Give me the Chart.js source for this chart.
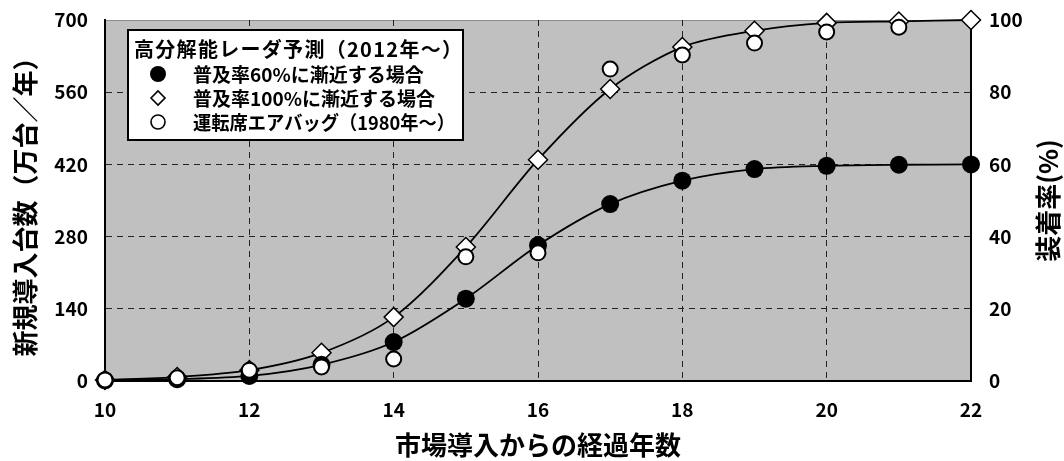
<!DOCTYPE html>
<html lang="ja">
<head>
<meta charset="utf-8">
<title>新規導入台数と装着率</title>
<script src="https://cdn.jsdelivr.net/npm/chart.js@4.4.1/dist/chart.umd.min.js"></script>
<style>
  html, body { margin: 0; padding: 0; background: #fff; }
  #wrap { width: 1064px; height: 461px; }
</style>
</head>
<body>
<div id="wrap"><canvas id="chart" width="1064" height="461"></canvas></div>
<script>
// ---- data ----
const years = [10, 11, 12, 13, 14, 15, 16, 17, 18, 19, 20, 21, 22];
const airbagYears = [10, 11, 12, 13, 14, 15, 16, 17, 18, 19, 20, 21];

// 装着率 (%)
const rate60 = [0.2, 0.5, 1.4, 4.5, 10.8, 22.8, 37.6, 49.0, 55.5, 58.7, 59.6, 59.9, 60.0];
const rate100 = [0.3, 1.1, 3.0, 7.8, 17.7, 37.1, 61.3, 80.9, 92.5, 97.0, 99.2, 99.6, 100.0];
const airbag = [0.3, 0.9, 3.0, 3.9, 6.1, 34.4, 35.5, 86.4, 90.3, 93.6, 96.7, 98.0];

const legendTitle = '高分解能レーダ予測（2012年～）';
const legendLabels = ['普及率60%に漸近する場合', '普及率100%に漸近する場合', '運転席エアバッグ（1980年～）'];

const leftTitle = '新規導入台数（万台／年）';
const rightTitle = '装着率(%)';
const xTitle = '市場導入からの経過年数';

const FONT = '"Noto Sans CJK JP", "Noto Sans", sans-serif';

const toPoints = (xs, ys) => xs.map((x, i) => ({ x, y: ys[i] }));

// ---- plugins ----
const plotBackground = {
  id: 'plotBackground',
  beforeDraw(chart) {
    const { ctx, chartArea: a } = chart;
    ctx.save();
    ctx.fillStyle = '#c0c0c0';
    ctx.fillRect(a.left, a.top, a.right - a.left, a.bottom - a.top);
    ctx.strokeStyle = '#8c8c8c';
    ctx.lineWidth = 1;
    ctx.beginPath();
    ctx.moveTo(a.left, a.top + 0.5);
    ctx.lineTo(a.right, a.top + 0.5);
    ctx.stroke();
    ctx.restore();
  }
};

function legendMarker(ctx, kind, x, y) {
  ctx.save();
  ctx.lineWidth = 1.6;
  ctx.strokeStyle = '#000';
  ctx.beginPath();
  if (kind === 'dot') {
    ctx.arc(x, y, 8, 0, Math.PI * 2);
    ctx.fillStyle = '#000';
    ctx.fill();
  } else if (kind === 'diamond') {
    ctx.moveTo(x - 7, y); ctx.lineTo(x, y - 7); ctx.lineTo(x + 7, y); ctx.lineTo(x, y + 7);
    ctx.closePath();
    ctx.fillStyle = '#fff';
    ctx.fill();
    ctx.stroke();
  } else {
    ctx.arc(x, y, 7, 0, Math.PI * 2);
    ctx.fillStyle = '#fff';
    ctx.fill();
    ctx.stroke();
  }
  ctx.restore();
}

const legendBox = {
  id: 'legendBox',
  afterDatasetsDraw(chart) {
    const { ctx } = chart;
    const box = { x: 128, y: 30, w: 335, h: 110 };
    ctx.save();
    ctx.fillStyle = '#fff';
    ctx.fillRect(box.x, box.y, box.w, box.h);
    ctx.strokeStyle = '#000';
    ctx.lineWidth = 2;
    ctx.strokeRect(box.x, box.y, box.w, box.h);

    ctx.fillStyle = '#000';
    ctx.textBaseline = 'middle';
    ctx.textAlign = 'left';
    ctx.font = 'bold 20px ' + FONT;
    ctx.letterSpacing = '1.3px';
    ctx.fillText(legendTitle, 134, 49);
    ctx.letterSpacing = '0px';

    ctx.font = 'bold 19px ' + FONT;
    const kinds = ['dot', 'diamond', 'ring'];
    const rowsY = [74, 98, 122];
    legendLabels.forEach((label, i) => {
      legendMarker(ctx, kinds[i], 158, rowsY[i]);
      ctx.fillStyle = '#000';
      ctx.fillText(label, 193, rowsY[i] + 1, 262);
    });
    ctx.restore();
  }
};

const rightAxisTitle = {
  id: 'rightAxisTitle',
  afterDraw(chart) {
    const { ctx, chartArea: a } = chart;
    ctx.save();
    ctx.translate(1048, (a.top + a.bottom) / 2);
    ctx.rotate(-Math.PI / 2);
    ctx.font = 'bold 26px ' + FONT;
    ctx.fillStyle = '#000';
    ctx.textAlign = 'center';
    ctx.textBaseline = 'middle';
    ctx.fillText(rightTitle, 0, 0);
    ctx.restore();
  }
};

// ---- chart ----
const hideEdge = (lo, hi) => c => (c.tick && (c.tick.value === lo || c.tick.value === hi)) ? 'rgba(0,0,0,0)' : '#222';
const tickFont = { family: FONT, size: 19, weight: 'bold' };
const noTick = 'rgba(0,0,0,0)';

new Chart(document.getElementById('chart'), {
  type: 'line',
  data: {
    datasets: [
      {
        label: legendLabels[2],
        data: toPoints(airbagYears, airbag),
        yAxisID: 'y1',
        showLine: false,
        pointStyle: 'circle',
        pointRadius: 7.5,
        pointBackgroundColor: '#fff',
        pointBorderColor: '#000',
        pointBorderWidth: 2,
        clip: false,
      },
      {
        label: legendLabels[0],
        data: toPoints(years, rate60),
        yAxisID: 'y1',
        borderColor: '#000',
        borderWidth: 1.8,
        tension: 0.3,
        pointStyle: 'circle',
        pointRadius: 9,
        pointBackgroundColor: '#000',
        pointBorderColor: '#000',
        pointBorderWidth: 0,
        clip: false,
      },
      {
        label: legendLabels[1],
        data: toPoints(years, rate100),
        yAxisID: 'y1',
        borderColor: '#000',
        borderWidth: 1.8,
        tension: 0.3,
        pointStyle: 'rectRot',
        pointRadius: 9.5,
        pointBackgroundColor: '#fff',
        pointBorderColor: '#000',
        pointBorderWidth: 1.5,
        clip: false,
      },
    ],
  },
  options: {
    responsive: false,
    animation: false,
    events: [],
    layout: { padding: { top: 20, left: 0, right: 0, bottom: 0 } },
    plugins: {
      legend: { display: false },
      tooltip: { enabled: false },
    },
    scales: {
      x: {
        type: 'linear',
        min: 10,
        max: 22,
        afterFit: s => { s.height = 80; },
        ticks: { stepSize: 2, padding: 0, color: '#000', font: tickFont },
        grid: { tickLength: 17, tickColor: noTick, color: hideEdge(10, 22), lineWidth: 1 },
        border: { display: true, color: '#000', width: 2, dash: [6, 5] },
        title: {
          display: true,
          text: xTitle,
          color: '#000',
          font: { family: FONT, size: 26, weight: 'bold', lineHeight: 1 },
          padding: { top: 0, bottom: 3 },
        },
      },
      y: {
        position: 'left',
        min: 0,
        max: 700,
        afterFit: s => { s.width = 105; },
        ticks: { stepSize: 140, padding: 0, color: '#000', font: tickFont },
        grid: { tickLength: 17, tickColor: noTick, color: hideEdge(0, 700), lineWidth: 1 },
        border: { display: true, color: '#000', width: 2, dash: [6, 5] },
        title: {
          display: true,
          text: leftTitle,
          color: '#000',
          font: { family: FONT, size: 26, weight: 'bold', lineHeight: 1 },
          padding: { top: 12, bottom: 0 },
        },
      },
      y1: {
        position: 'right',
        min: 0,
        max: 100,
        afterFit: s => { s.width = 93; },
        ticks: { stepSize: 20, padding: 0, color: '#000', font: tickFont },
        grid: { drawOnChartArea: false, tickLength: 18, tickColor: noTick },
        border: { display: true, color: '#000', width: 2 },
      },
    },
  },
  plugins: [plotBackground, legendBox, rightAxisTitle],
});
</script>
</body>
</html>
